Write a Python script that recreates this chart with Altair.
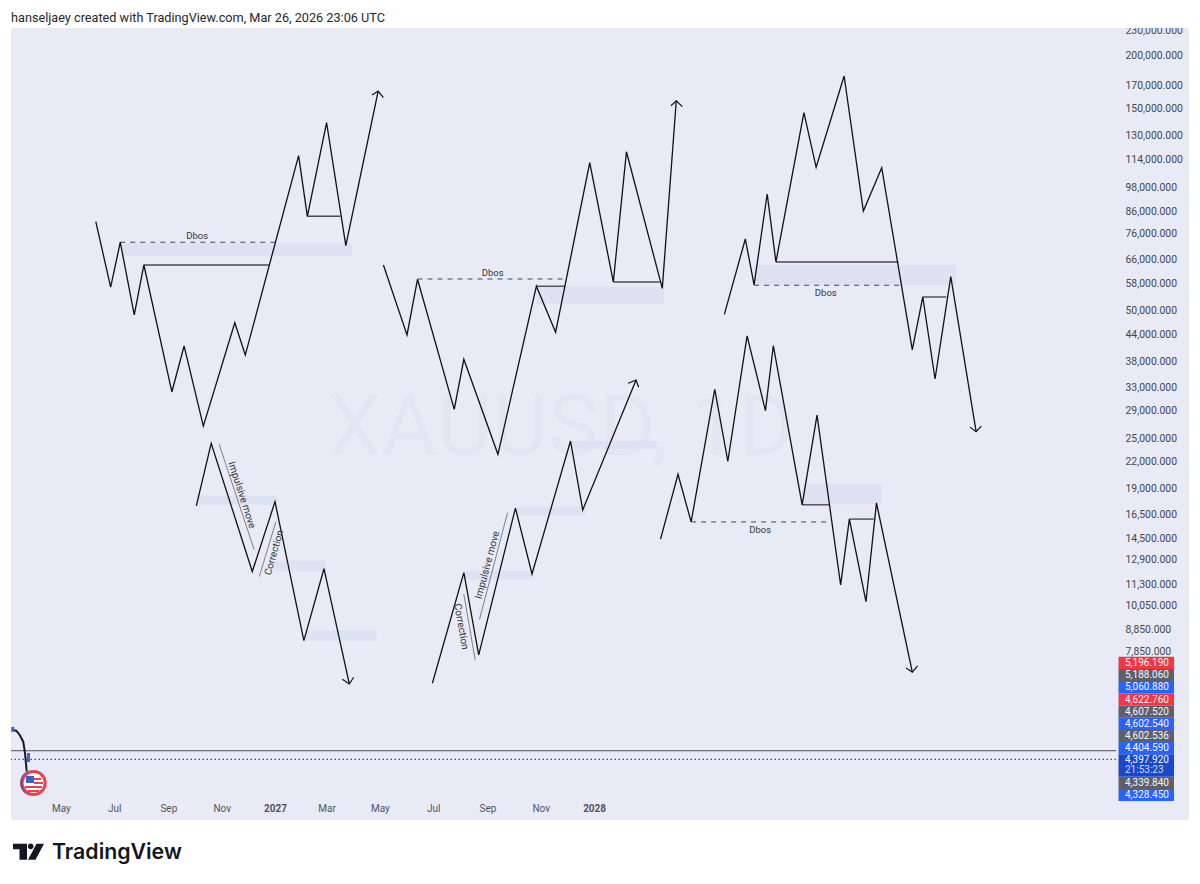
import altair as alt
import pandas as pd

START = pd.Timestamp("2026-05-01")

# day counts from START and prices
A_DAYS = [40, 57, 68, 84, 95, 127, 141, 163, 199, 211, 272, 282, 304, 326, 363]
A_PRICE = [81200, 56900, 72600, 48900, 64150, 32150, 41290, 26700, 46850, 39300, 116300, 83600, 139100, 71250, 165300]
B_DAYS = [369, 396, 408, 450, 461, 500, 544, 566, 605, 632, 647, 688, 704]
B_PRICE = [64150, 43850, 59350, 29250, 38400, 22900, 57150, 44500, 111900, 58500, 118800, 56500, 156800]
C_DAYS = [759, 783, 793, 808, 818, 850, 864, 896, 918, 939, 974, 986, 1000, 1018, 1047]
C_PRICE = [49050, 73900, 57550, 94400, 65200, 146900, 109150, 179400, 86050, 108900, 40400, 53900, 34500, 60200, 25900]
D_DAYS = [686, 706, 721, 748, 763, 785, 806, 815, 848, 865, 892, 902, 921, 933, 974]
D_PRICE = [14430, 20550, 15850, 32600, 22050, 43600, 29050, 41350, 17400, 28350, 11250, 16100, 10270, 17580, 7000]
E_DAYS = [155, 172, 219, 245, 278, 301, 330]
E_PRICE = [17290, 24300, 12100, 17700, 8310, 12290, 6565]
F_DAYS = [425, 461, 478, 520, 539, 583, 597, 658]
F_PRICE = [6590, 12030, 7690, 17080, 11940, 24620, 16920, 34300]

# arrow heads: wing, tip, wing
ARROW_DAYS = [[356, 363, 369], [698, 704, 711], [1040, 1047, 1053], [967, 974, 980], [322, 330, 335], [649, 658, 661]]
ARROW_PRICE = [[161800, 165300, 159400], [152600, 156800, 151800], [26550, 25900, 26700],
               [7160, 7000, 7240], [6735, 6565, 6808], [33700, 34300, 32980]]

# shaded zones
ZONE_START = [71, 544, 794, 849, 155, 245, 281, 462, 521, 582]
ZONE_END = [333, 690, 1024, 939, 247, 303, 361, 540, 600, 682]
ZONE_TOP = [72200, 57000, 64150, 19550, 18300, 12840, 8770, 12140, 17224, 24620]
ZONE_BOTTOM = [67400, 51900, 57550, 17450, 17400, 12120, 8310, 11600, 16440, 23610]

# solid break lines
SOLID_START = [95, 282, 544, 632, 818, 986, 848, 902]
SOLID_END = [238, 320, 577, 685, 958, 1013, 879, 930]
SOLID_PRICE = [64150, 83600, 57150, 58500, 65200, 53900, 17400, 16100]

# dashed Dbos lines and their labels
DASH_START = [68, 408, 793, 721]
DASH_END = [245, 576, 960, 876]
DASH_PRICE = [72600, 59450, 57450, 15850]
DBOS_DAYS = [156, 494, 875, 800]
DBOS_PRICE = [75200, 61400, 55000, 15170]

# grey guide lines next to the impulsive / correction legs
GUIDE_START = [181, 246, 461, 511]
GUIDE_END = [221, 227, 474, 479]
GUIDE_PRICE = [24230, 15870, 10710, 16670]
GUIDE_PRICE2 = [13660, 11770, 7480, 9335]
NOTE_TEXT = ["Impulsive move", "Correction", "Correction", "Impulsive move"]
NOTE_DAYS = [207, 244, 458, 488]
NOTE_PRICE = [18350, 13410, 8965, 12540]
NOTE_ANGLE = [72, 286, 80, 285]

# real price action at the far left
LIVE_DAYS = [-56, -51, -47, -43, -41, -39]
LIVE_PRICE = [5111, 5092, 4974, 4796, 4510, 4074]
CANDLE_DAY = [-55, -37]
CANDLE_OPEN = [5196, 4510]
CANDLE_CLOSE = [5060, 4294]
HIGH_LINE = [4565]
LAST_LINE = [4357]

PRICE_TICKS = [230000, 200000, 170000, 150000, 130000, 114000, 98000, 86000, 76000, 66000, 58000, 50000,
               44000, 38000, 33000, 29000, 25000, 22000, 19000, 16500, 14500, 12900, 11300, 10050, 8850, 7850]
DATE_TICKS = ["2026-05-01", "2026-07-01", "2026-09-01", "2026-11-01", "2027-01-01", "2027-03-01",
              "2027-05-01", "2027-07-01", "2027-09-01", "2027-11-01", "2028-01-01"]

TAG_TEXT = ["5,196.190", "5,188.060", "5,060.880", "4,622.760", "4,607.520", "4,602.540",
            "4,602.536", "4,404.590", "4,397.920", "4,339.840", "4,328.450"]
TAG_COLOR = ["#f23645", "#5d606b", "#2962ff", "#f23645", "#5d606b", "#2962ff",
             "#5d606b", "#2962ff", "#1848cc", "#5d606b", "#2962ff"]

BG = "#e8ebf6"
FONT = "Roboto"


def dates(days):
    return [(START + pd.Timedelta(days=d)).strftime("%Y-%m-%dT00:00:00") for d in days]


X = alt.X(
    "date:T",
    title=None,
    scale=alt.Scale(domain=["2026-03-05T00:00:00", "2029-08-20T00:00:00"], nice=False),
    axis=alt.Axis(
        values=[d + "T00:00:00" for d in DATE_TICKS],
        labelExpr="month(datum.value) == 0 ? timeFormat(datum.value, '%Y') : timeFormat(datum.value, '%b')",
        labelFontWeight={"condition": {"test": "month(datum.value) == 0", "value": "bold"}, "value": "normal"},
        labelColor="#50535e", labelFontSize=10, labelFont=FONT, labelPadding=8,
        domain=False, ticks=False, grid=False, labelOverlap=False, labelFlush=False,
    ),
)
Y = alt.Y(
    "price:Q",
    title=None,
    scale=alt.Scale(type="log", domain=[3588, 232900], nice=False, zero=False),
    axis=alt.Axis(
        orient="right", values=PRICE_TICKS, format=",.3f",
        labelColor="#43464f", labelFontSize=10.4, labelFont=FONT, labelPadding=9, labelAlign="left",
        domain=False, ticks=False, grid=False, labelOverlap=False, labelFlush=False,
    ),
)


def path_layer(days, prices, **style):
    df = pd.DataFrame({"date": dates(days), "price": prices, "seq": range(len(days))})
    return alt.Chart(df).mark_line(**style).encode(x=X, y=Y, order="seq:Q")


def hline_layer(start, end, price, **style):
    df = pd.DataFrame({"date": dates(start), "date2": dates(end), "price": price})
    return alt.Chart(df).mark_rule(**style).encode(x=X, x2="date2:T", y=Y)


# screen pixels to plot pixels, for the frame around the chart
def sx(v):
    return v - 11


def sy(v):
    return v - 28


ONE = pd.DataFrame({"a": [0]})


def box(x0, x1, y0, y1, color):
    return alt.Chart(ONE).mark_rect(color=color).encode(
        x=alt.value(sx(x0)), x2=alt.value(sx(x1)), y=alt.value(sy(y0)), y2=alt.value(sy(y1))
    )


def label(text, x, y, **style):
    return alt.Chart(ONE).mark_text(text=text, font=FONT, **style).encode(
        x=alt.value(sx(x)), y=alt.value(sy(y))
    )


def symbol(path, x, y, color):
    # size=4 makes one path unit one pixel
    return alt.Chart(ONE).mark_point(shape=path, filled=True, size=4, color=color, opacity=1).encode(
        x=alt.value(sx(x)), y=alt.value(sy(y))
    )


layers = [
    label("XAUUSD, 1D", 561, 429, fontSize=86, color="#e3e6f2"),
]

zones = pd.DataFrame({
    "date": dates(ZONE_START), "date2": dates(ZONE_END), "price": ZONE_TOP, "price2": ZONE_BOTTOM,
})
layers.append(alt.Chart(zones).mark_rect(color="#dde2f3").encode(x=X, x2="date2:T", y=Y, y2="price2:Q"))

layers.append(hline_layer(SOLID_START, SOLID_END, SOLID_PRICE, color="#4a4a4a", strokeWidth=1.4))
layers.append(hline_layer(DASH_START, DASH_END, DASH_PRICE, color="#44464e", strokeWidth=1, strokeDash=[5, 5]))

guides = pd.DataFrame({
    "date": dates(GUIDE_START), "date2": dates(GUIDE_END), "price": GUIDE_PRICE, "price2": GUIDE_PRICE2,
})
layers.append(alt.Chart(guides).mark_rule(color="#7d7f86", strokeWidth=1).encode(x=X, x2="date2:T", y=Y, y2="price2:Q"))

for days, prices in [(A_DAYS, A_PRICE), (B_DAYS, B_PRICE), (C_DAYS, C_PRICE),
                     (D_DAYS, D_PRICE), (E_DAYS, E_PRICE), (F_DAYS, F_PRICE)]:
    layers.append(path_layer(days, prices, color="#111111", strokeWidth=1.3))
for days, prices in zip(ARROW_DAYS, ARROW_PRICE):
    layers.append(path_layer(days, prices, color="#111111", strokeWidth=1.2))

dbos = pd.DataFrame({"date": dates(DBOS_DAYS), "price": DBOS_PRICE})
layers.append(alt.Chart(dbos).mark_text(text="Dbos", font=FONT, fontSize=9.5, color="#33353c").encode(x=X, y=Y))

for text, day, price, angle in zip(NOTE_TEXT, NOTE_DAYS, NOTE_PRICE, NOTE_ANGLE):
    note = pd.DataFrame({"date": dates([day]), "price": [price]})
    layers.append(
        alt.Chart(note).mark_text(text=text, font=FONT, fontSize=10, color="#33353c", angle=angle).encode(x=X, y=Y)
    )

# last price lines and the live candles
for price, style in [(HIGH_LINE, dict(color="#4d4f57", strokeWidth=1)),
                     (LAST_LINE, dict(color="#1f4fd8", strokeWidth=1.3, strokeDash=[1.5, 2.5]))]:
    layers.append(alt.Chart(pd.DataFrame({"price": price})).mark_rule(**style).encode(y=Y))
layers.append(path_layer(LIVE_DAYS, LIVE_PRICE, color="#14182c", strokeWidth=2))
candle = pd.DataFrame({"date": dates(CANDLE_DAY), "price": CANDLE_OPEN, "price2": CANDLE_CLOSE})
layers.append(alt.Chart(candle).mark_rule(color="#3f63c8", strokeWidth=3).encode(x=X, y=Y, y2="price2:Q"))

# flag badge
layers += [
    symbol("M0,-13A13,13,0,1,1,0,13A13,13,0,1,1,0,-13Z", 33.7, 783, "#e8404c"),
    symbol("M0,-13A13,13,0,0,0,0,13A11,13,0,0,1,0,-13Z", 33, 783, "#8d3aa0"),
    symbol("M0,-10A10,10,0,1,1,0,10A10,10,0,1,1,0,-10Z", 33.7, 783, "#ffffff"),
    box(26, 34, 776, 783, "#3a62c4"),
    box(34, 41, 778, 780, "#e8404c"),
    box(34, 43, 782, 784, "#e8404c"),
    box(25, 42, 786, 788, "#e8404c"),
    box(28, 39, 790, 792, "#e8404c"),
]

# white page frame around the pane
layers += [
    box(8, 1192, 8, 28, "#ffffff"),
    box(8, 1192, 820, 876, "#ffffff"),
    box(8, 11, 8, 876, "#ffffff"),
    box(1189, 1192, 8, 876, "#ffffff"),
]

# price tags on the axis
top = 656.7
for text, color in zip(TAG_TEXT, TAG_COLOR):
    tall = text == "4,397.920"
    height = 22.4 if tall else 12.2
    layers.append(box(1118.5, 1174, top, top + height, color))
    layers.append(label(text, 1125, top + (5.4 if tall else 6.2), fontSize=10, color="#f4f6ff", align="left"))
    if tall:
        layers.append(label("21:53:23", 1125, top + 15.6, fontSize=10, color="#cdd8fa", align="left"))
    top += height

layers.append(
    label("hanseljaey created with TradingView.com, Mar 26, 2026 23:06 UTC", 11, 18, fontSize=12.7,
          color="#26272c", align="left")
)

# TradingView logo
layers += [
    symbol("M-15.5,-8H-1.5V8H-9V-2.5H-15.5Z M15.5,-8L7,8H-0.5L8,-8Z", 28.5, 851.7, "#131722"),
    symbol("M-2.8,0A2.8,2.8,0,1,1,2.8,0A2.8,2.8,0,1,1,-2.8,0Z", 30.7, 846.4, "#131722"),
    alt.Chart(ONE).mark_text(text="TradingView", font="Inter", fontWeight=600, fontSize=21.3, color="#131722",
                             align="left").encode(x=alt.value(sx(52)), y=alt.value(sy(853))),
]

chart = alt.layer(*layers).properties(
    width=1105,
    height=767,
    background=BG,
    padding={"left": 3, "top": 20, "right": 76, "bottom": 81},
    autosize=alt.AutoSizeParams(type="none"),
).configure_view(stroke=None)

chart.save("out.html", embed_options={"renderer": "svg", "actions": False})
